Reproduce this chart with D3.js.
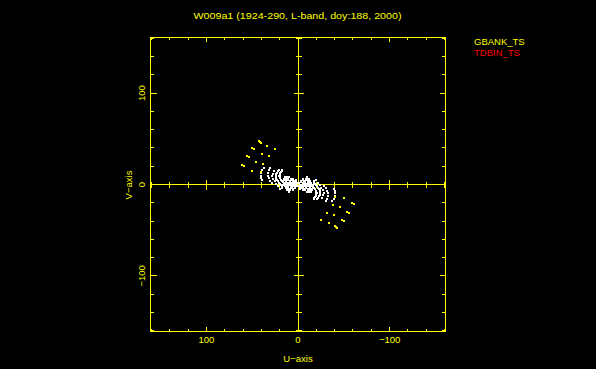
<!DOCTYPE html>
<html><head><meta charset="utf-8">
<script src="https://cdn.jsdelivr.net/npm/d3@7"></script>
<style>html,body{margin:0;padding:0;background:#000;}svg{display:block;}</style>
</head><body>
<script>
const titleText = "W009a1 (1924-290, L-band, doy:188, 2000)";
const legendNames = ["GBANK_TS", "TDBIN_TS"];
const legendColors = ["#ffff00", "#ff0000"];
const majorTicks = [-100, 0, 100];
const minorTicks = [-160,-140,-120,-80,-60,-40,-20,20,40,60,80,120,140,160];
const axisDomain = [-161, 161];

// short-baseline visibilities (white), [u, v]
const whitePoints = [
  [37.4,18.1],[38.9,15.6],[39.9,12.7],[40.3,9.8],[39.9,6.8],[38.9,4.7],
  [30.1,18.1],[31.6,15.6],[32.3,12.7],[32.7,9.8],[32.0,6.8],[30.5,4.3],[28.7,2.1],
  [26.5,14.8],[27.6,11.9],[27.9,9.0],[27.2,6.1],[25.4,3.9],[23.6,1.0],[21.8,-1.9],[20.0,-4.8],
  [20.7,15.6],[22.9,13.0],[24.3,10.1],[24.3,7.2],[22.9,4.7],[20.7,2.1],[18.9,-0.4],[17.0,-3.3],
  [21.8,14.3],[23.6,11.6],[24.5,8.7],[23.6,5.9],[21.8,3.4],[19.8,0.9],[18.0,-1.9],
  [17.0,16.3],[18.9,13.7],[20.0,10.8],[20.0,7.9],[18.5,5.4],[16.3,2.8],[14.5,0.3],[12.7,-2.6],[10.9,-5.5],[9.8,-8.1],
  [17.9,15.0],[19.5,12.2],[20.2,9.3],[19.3,6.6],[17.4,4.1],[15.4,1.5],[13.6,-1.2],[11.8,-4.0],
  [10,8],[12,8],[14,8],[6,6],[8,6],[11,6],[13,6],[15,6],
  [2,4],[4,4],[6,4],[9,4],[13,4],[16,4],[1,2],[3,2],[5,2],[9,2],[11,2],[13,2],
  [2,0],[4,0],[7,0],[10,0],[12,0],[16,0],[1,-2],[5,-2],[8,-2],[11,-2],[14,-2],
  [3,-4],[7,-4],[11,-4],[13,-4],[6,-6],[9,-6],[12,-6],
  [14.5,4.7],[12.7,2.8],[10.9,1.0],[9.0,-0.8],[7.2,1.8],[5.4,0.3],[3.6,2.8],[1.8,1.0],[12.7,-0.8],
  [9.0,-4.4],[7.2,-2.6],[3.6,-2.6],[10.9,4.7],[7.2,5.4],[2.5,4.7],[5.4,-4.4],[1.0,-1.9],[8.3,2.8],
  // conjugate points
  [-37.4,-18.1],[-38.9,-15.6],[-39.9,-12.7],[-40.3,-9.8],[-39.9,-6.8],[-38.9,-4.7],
  [-30.1,-18.1],[-31.6,-15.6],[-32.3,-12.7],[-32.7,-9.8],[-32.0,-6.8],[-30.5,-4.3],[-28.7,-2.1],
  [-26.5,-14.8],[-27.6,-11.9],[-27.9,-9.0],[-27.2,-6.1],[-25.4,-3.9],[-23.6,-1.0],[-21.8,1.9],[-20.0,4.8],
  [-20.7,-15.6],[-22.9,-13.0],[-24.3,-10.1],[-24.3,-7.2],[-22.9,-4.7],[-20.7,-2.1],[-18.9,0.4],[-17.0,3.3],
  [-21.8,-14.3],[-23.6,-11.6],[-24.5,-8.7],[-23.6,-5.9],[-21.8,-3.4],[-19.8,-0.9],[-18.0,1.9],
  [-17.0,-16.3],[-18.9,-13.7],[-20.0,-10.8],[-20.0,-7.9],[-18.5,-5.4],[-16.3,-2.8],[-14.5,-0.3],[-12.7,2.6],[-10.9,5.5],[-9.8,8.1],
  [-17.9,-15.0],[-19.5,-12.2],[-20.2,-9.3],[-19.3,-6.6],[-17.4,-4.1],[-15.4,-1.5],[-13.6,1.2],[-11.8,4.0],
  [-10,-8],[-12,-8],[-14,-8],[-6,-6],[-8,-6],[-11,-6],[-13,-6],[-15,-6],
  [-2,-4],[-4,-4],[-6,-4],[-9,-4],[-13,-4],[-16,-4],[-1,-2],[-3,-2],[-5,-2],[-9,-2],[-11,-2],[-13,-2],
  [-2,0],[-4,0],[-7,0],[-10,0],[-12,0],[-16,0],[-1,2],[-5,2],[-8,2],[-11,2],[-14,2],
  [-3,4],[-7,4],[-11,4],[-13,4],[-6,6],[-9,6],[-12,6],
  [-14.5,-4.7],[-12.7,-2.8],[-10.9,-1.0],[-9.0,0.8],[-7.2,-1.8],[-5.4,-0.3],[-3.6,-2.8],[-1.8,-1.0],[-12.7,0.8],
  [-9.0,4.4],[-7.2,2.6],[-3.6,2.6],[-10.9,-4.7],[-7.2,-5.4],[-2.5,-4.7],[-5.4,4.4],[-1.0,1.9],[-8.3,-2.8]
];

// GBANK_TS points (yellow), [u, v]
const gbankPoints = [
  [42.9,47.2],[41.8,46.1],[40.7,45.1],[34.1,41.8],[25.4,38.5],[50.5,39.6],[48.3,38.5],[39.6,33.1],[32.0,30.9],
  [56.0,30.9],[53.8,29.8],[46.1,24.3],[38.5,22.1],[61.4,21.1],[59.2,20.0],[50.5,14.5],[40.7,13.6],
  [-42.9,-47.2],[-41.8,-46.1],[-40.7,-45.1],[-34.1,-41.8],[-25.4,-38.5],[-50.5,-39.6],[-48.3,-38.5],[-39.6,-33.1],[-32.0,-30.9],
  [-56.0,-30.9],[-53.8,-29.8],[-46.1,-24.3],[-38.5,-22.1],[-61.4,-21.1],[-59.2,-20.0],[-50.5,-14.5],[-40.7,-13.6]
];

const W = 596, H = 369;
const YEL = "#ffff00";
const svg = d3.select("body").append("svg").attr("width", W).attr("height", H)
  .style("background", "#000");
svg.append("rect").attr("width", W).attr("height", H).attr("fill", "#000");

const x = d3.scaleLinear().domain([axisDomain[1], axisDomain[0]]).range([150.5, 445.5]);
const y = d3.scaleLinear().domain(axisDomain).range([331.5, 37.5]);
const snap = v => Math.round(v - 0.5) + 0.5;
const font = "'Liberation Sans', Arial, sans-serif";

const g = svg.append("g").attr("stroke", YEL).attr("stroke-width", 1).attr("fill", "none")
  .attr("shape-rendering", "crispEdges");
const L = x(axisDomain[1]), R = x(axisDomain[0]), T = y(axisDomain[1]), B = y(axisDomain[0]);
const x0 = snap(x(0)), y0 = snap(y(0));
g.append("rect").attr("x", L).attr("y", T).attr("width", R - L).attr("height", B - T);
g.append("line").attr("x1", L).attr("x2", R).attr("y1", y0).attr("y2", y0);
g.append("line").attr("x1", x0).attr("x2", x0).attr("y1", T).attr("y2", B);

function ticks(vals, lenX, lenY, lenZ) {
  vals.forEach(v => {
    const px = snap(x(v)), py = snap(y(v));
    g.append("line").attr("x1", px).attr("x2", px).attr("y1", B).attr("y2", B - lenX);
    g.append("line").attr("x1", px).attr("x2", px).attr("y1", T).attr("y2", T + lenX);
    g.append("line").attr("y1", py).attr("y2", py).attr("x1", L).attr("x2", L + lenY);
    g.append("line").attr("y1", py).attr("y2", py).attr("x1", R).attr("x2", R - lenY);
    if (v !== 0) {
      g.append("line").attr("x1", px).attr("x2", px).attr("y1", y0 - lenZ).attr("y2", y0 + lenZ);
      g.append("line").attr("y1", py).attr("y2", py).attr("x1", x0 - lenZ).attr("x2", x0 + lenZ);
    }
  });
}
ticks(minorTicks, 2.5, 3.5, 3);
ticks(majorTicks, 4.5, 6, 5);

const pts = svg.append("g").attr("shape-rendering", "crispEdges");
pts.selectAll("rect.w").data(whitePoints).join("rect").attr("class", "w")
  .attr("x", d => Math.round(x(d[0])) - 1).attr("y", d => Math.round(y(d[1])) - 1)
  .attr("width", 2).attr("height", 2).attr("fill", "#fff");
pts.selectAll("rect.yel").data(gbankPoints).join("rect").attr("class", "yel")
  .attr("x", d => Math.round(x(d[0])) - 1).attr("y", d => Math.round(y(d[1])) - 1)
  .attr("width", 2).attr("height", 2).attr("fill", YEL);

const fmt = v => v === 0 ? "0" : (v < 0 ? "\u2212" + Math.abs(v) : String(v));
const txt = svg.append("g").attr("fill", YEL).attr("font-family", font).attr("font-size", 9.5);
txt.append("text").attr("x", 297.5).attr("y", 18.5).attr("text-anchor", "middle")
  .attr("textLength", 208).attr("lengthAdjust", "spacingAndGlyphs").text(titleText);
majorTicks.forEach(v => {
  txt.append("text").attr("x", x(v)).attr("y", 342.5).attr("text-anchor", "middle").text(fmt(v));
  txt.append("text").attr("transform", `translate(145,${y(v)}) rotate(-90)`)
    .attr("text-anchor", "middle").text(fmt(v));
});
txt.append("text").attr("x", 298).attr("y", 362).attr("text-anchor", "middle").text("U\u2212axis");
txt.append("text").attr("transform", `translate(131.5,185) rotate(-90)`).attr("text-anchor", "middle").text("V\u2212axis");
legendNames.forEach((n, i) => {
  txt.append("text").attr("x", 474).attr("y", 45 + i * 11).attr("fill", legendColors[i]).text(n);
});
</script>
</body></html>
